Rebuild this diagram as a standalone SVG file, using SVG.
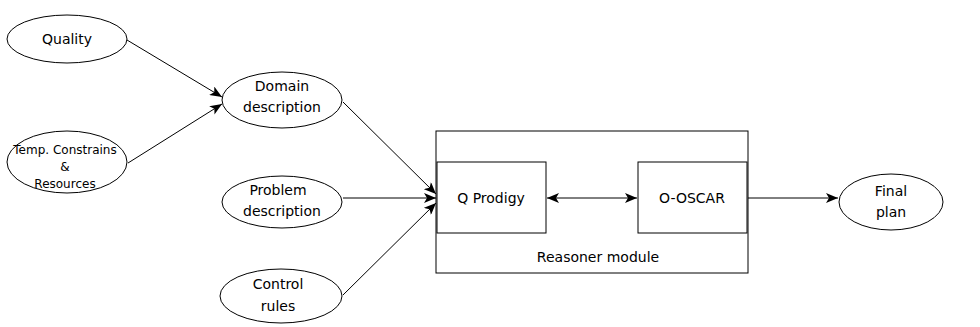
<svg xmlns="http://www.w3.org/2000/svg" width="980" height="327" viewBox="0 0 980 327">
<defs>
<marker id="ah" markerWidth="12" markerHeight="10" refX="12" refY="5" orient="auto" markerUnits="userSpaceOnUse"><path d="M0,0 L12,5 L0,10 L3,5 Z" fill="#000"/></marker>
<marker id="as" markerWidth="12" markerHeight="10" refX="0" refY="5" orient="auto" markerUnits="userSpaceOnUse"><path d="M12,0 L0,5 L12,10 L9,5 Z" fill="#000"/></marker>
</defs>
<style>
.n{fill:#fff;stroke:#000;stroke-width:1}
.t{font-family:"DejaVu Sans","Liberation Sans",sans-serif;font-size:14px;fill:#000;text-anchor:middle}
.s{font-size:12px}
.c{stroke:#000;stroke-width:1;fill:none;marker-end:url(#ah)}
</style>
<rect width="980" height="327" fill="#fff"/>
<g id="reasoner"><rect class="n" x="436" y="131" width="312" height="142"/><text class="t" x="598" y="262">Reasoner module</text></g>
<g id="quality"><ellipse class="n" cx="67" cy="39" rx="60" ry="24"/><text class="t" x="67" y="44">Quality</text></g>
<g id="temp"><ellipse class="n" cx="67" cy="162" rx="60" ry="31"/><text class="t s" x="65" y="154">Temp. Constrains</text><text class="t s" x="65" y="171">&amp;</text><text class="t s" x="65" y="188">Resources</text></g>
<g id="domain"><ellipse class="n" cx="282" cy="100" rx="60" ry="28"/><text class="t" x="282" y="91">Domain</text><text class="t" x="282" y="112">description</text></g>
<g id="problem"><ellipse class="n" cx="282" cy="202" rx="60" ry="26"/><text class="t" x="278" y="195">Problem</text><text class="t" x="282" y="216">description</text></g>
<g id="control"><ellipse class="n" cx="281" cy="296" rx="61" ry="27"/><text class="t" x="278" y="289">Control</text><text class="t" x="278" y="311">rules</text></g>
<g id="qprodigy"><rect class="n" x="437" y="162" width="109" height="71"/><text class="t" x="491" y="203">Q Prodigy</text></g>
<g id="ooscar"><rect class="n" x="638" y="162" width="109" height="71"/><text class="t" x="692" y="203">O-OSCAR</text></g>
<g id="final"><ellipse class="n" cx="891" cy="202" rx="52" ry="28"/><text class="t" x="891" y="196">Final</text><text class="t" x="891" y="217">plan</text></g>
<g id="connectors">
<line class="c" x1="127" y1="40" x2="222" y2="97"/>
<line class="c" x1="128" y1="163" x2="222" y2="104"/>
<line class="c" x1="343" y1="102" x2="436" y2="194"/>
<line class="c" x1="343" y1="198" x2="436" y2="198"/>
<line class="c" x1="343" y1="295" x2="436" y2="203"/>
<line class="c" x1="547" y1="198" x2="637" y2="198" style="marker-start:url(#as)"/>
<line class="c" x1="748" y1="198" x2="838" y2="198"/>
</g>
</svg>
